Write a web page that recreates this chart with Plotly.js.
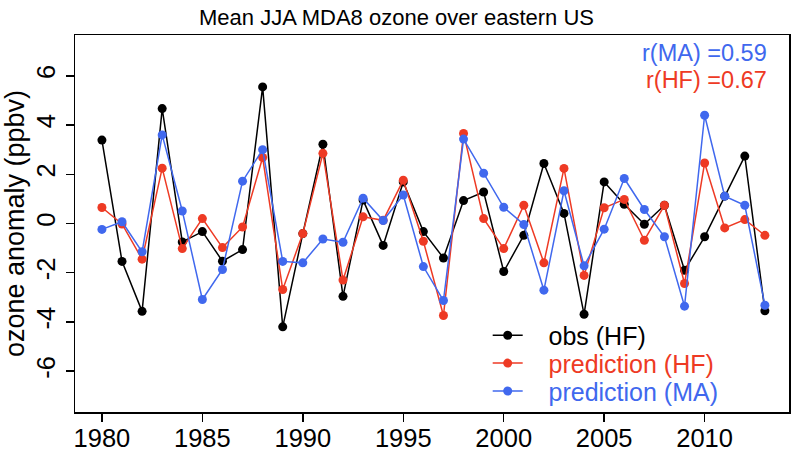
<!DOCTYPE html>
<html>
<head>
<meta charset="utf-8">
<script src="https://cdn.plot.ly/plotly-3.0.1.min.js"></script>
<style>html,body{margin:0;padding:0;background:#fff;}#chart{width:793px;height:455px;}</style>
</head>
<body>
<div id="chart"></div>
<script>
const years = [1980,1981,1982,1983,1984,1985,1986,1987,1988,1989,1990,1991,1992,1993,1994,1995,1996,1997,1998,1999,2000,2001,2002,2003,2004,2005,2006,2007,2008,2009,2010,2011,2012,2013];
const obsHF = [3.39,-1.54,-3.57,4.67,-0.75,-0.33,-1.53,-1.06,5.55,-4.2,-0.41,3.22,-2.96,0.95,-0.89,1.69,-0.33,-1.4,0.93,1.28,-1.95,-0.48,2.44,0.41,-3.69,1.69,0.78,-0.03,0.74,-1.9,-0.54,1.11,2.74,-3.55];
const predHF = [0.65,-0.02,-1.45,2.25,-1.02,0.2,-0.98,-0.14,2.68,-2.68,-0.41,2.85,-2.3,0.27,0.13,1.76,-0.72,-3.74,3.66,0.2,-1.02,0.74,-1.6,2.24,-2.11,0.64,0.98,-0.68,0.74,-2.44,2.46,-0.18,0.16,-0.48];
const predMA = [-0.24,0.07,-1.15,3.6,0.51,-3.09,-1.87,1.72,3.0,-1.54,-1.6,-0.63,-0.76,1.03,0.12,1.16,-1.75,-3.13,3.43,2.04,0.66,-0.04,-2.71,1.33,-1.72,-0.23,1.83,0.57,-0.54,-3.36,4.4,1.11,0.74,-3.32];
const xTicks = [1980,1985,1990,1995,2000,2005,2010];
const yTicks = [-6,-4,-2,0,2,4,6];
const seriesNames = ['obs (HF)','prediction (HF)','prediction (MA)'];
const rLabels = ['r(MA) =0.59','r(HF) =0.67'];

const BLACK = '#000000', RED = '#EE3A24', BLUE = '#4068EE';
const FONT = 'Liberation Sans, Arial, Helvetica, sans-serif';
const GAP = '\u00A0\u00A0\u00A0';

function tr(y, name, color, legendId) {
  return {
    x: years, y: y, type: 'scatter', mode: 'lines+markers',
    name: '<span style="color:' + color + '">' + GAP + name + '</span>',
    legend: legendId,
    line: {color: color, width: 1.5},
    marker: {color: color, size: 9, line: {width: 0}}
  };
}
const data = [
  tr(obsHF, seriesNames[0], BLACK, 'legend'),
  tr(predHF, seriesNames[1], RED, 'legend2'),
  tr(predMA, seriesNames[2], BLUE, 'legend3')
];

function leg(yc) {
  return {x: 0.578, y: yc, xanchor: 'left', yanchor: 'middle', bgcolor: 'rgba(0,0,0,0)',
          borderwidth: 0, font: {size: 25, family: FONT}};
}

const layout = {
  width: 793, height: 455,
  margin: {l: 75, r: 4, t: 35, b: 43, pad: 0},
  paper_bgcolor: '#fff', plot_bgcolor: '#fff',
  font: {family: FONT, color: '#000'},
  title: {text: 'Mean JJA MDA8 ozone over eastern US', font: {size: 22, family: FONT, color: '#000'},
          x: 0.5, xref: 'container', xanchor: 'center', y: 0.963, yref: 'container', yanchor: 'middle'},
  xaxis: {range: [1978.66, 2014.2], tickvals: xTicks, ticktext: xTicks.map(String),
          ticks: 'outside', ticklen: 8, tickwidth: 1.5, tickcolor: '#000', ticklabelstandoff: -5,
          showline: true, mirror: true, linecolor: '#000', linewidth: 1.5,
          showgrid: false, zeroline: false, tickfont: {size: 25.5, family: FONT}},
  yaxis: {range: [-7.66, 7.66], tickvals: yTicks, ticktext: yTicks.map(String), tickangle: -90,
          ticks: 'outside', ticklen: 8, tickwidth: 1.5, tickcolor: '#000',
          showline: true, mirror: true, linecolor: '#000', linewidth: 1.5,
          showgrid: false, zeroline: false, tickfont: {size: 25.5, family: FONT},
          title: {text: 'ozone anomaly (ppbv)', font: {size: 27, family: FONT}, standoff: 5}},
  showlegend: true,
  legend: leg(0.203),
  legend2: leg(0.129),
  legend3: leg(0.055),
  annotations: [
    {text: rLabels[0], xref: 'paper', yref: 'paper', x: 0.972, y: 0.952, xanchor: 'right', yanchor: 'middle',
     showarrow: false, font: {size: 23.5, color: BLUE, family: FONT}},
    {text: rLabels[1], xref: 'paper', yref: 'paper', x: 0.972, y: 0.881, xanchor: 'right', yanchor: 'middle',
     showarrow: false, font: {size: 23.5, color: RED, family: FONT}}
  ]
};
Plotly.newPlot('chart', data, layout, {displayModeBar: false, staticPlot: true});
</script>
</body>
</html>
